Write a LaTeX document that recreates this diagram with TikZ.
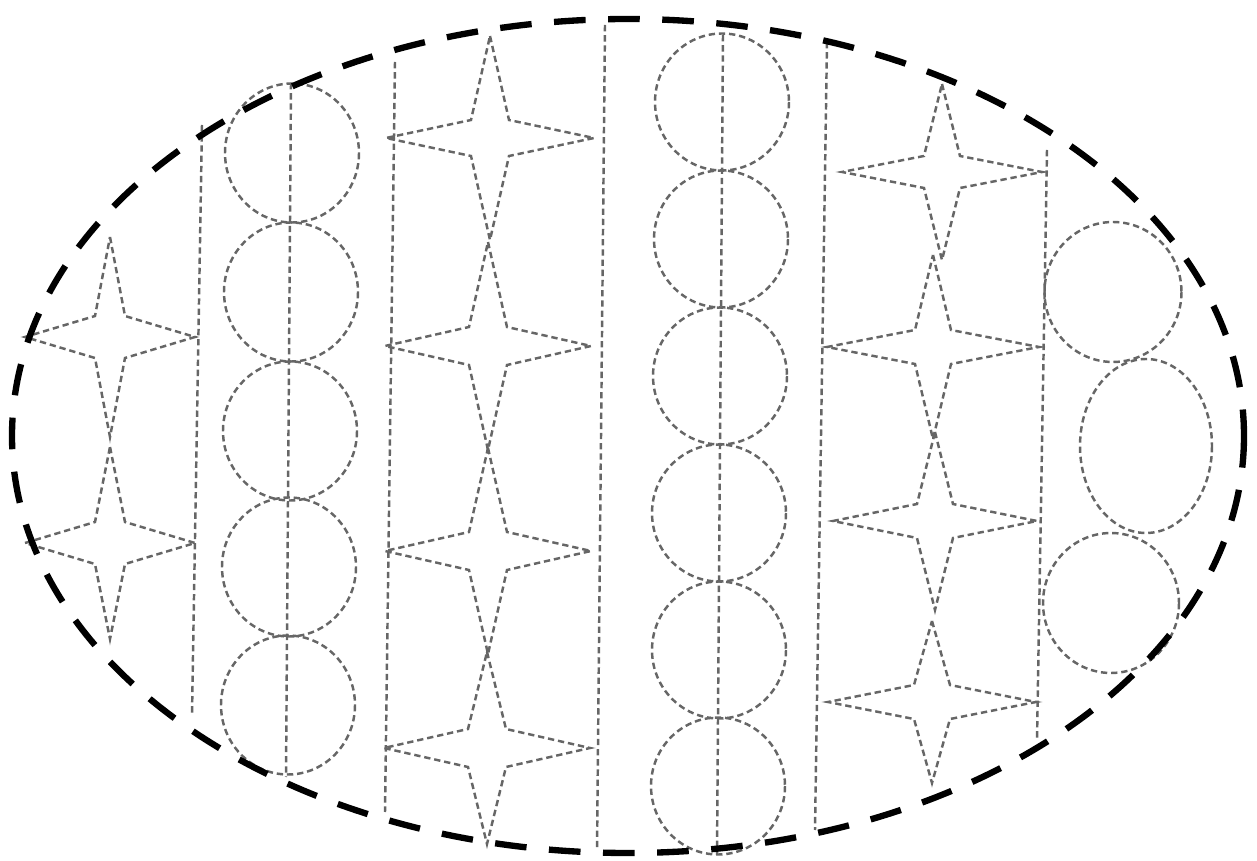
\documentclass[tikz,border=0pt]{standalone}
\begin{document}
\begin{tikzpicture}[x=0.01cm,y=-0.01cm,
  thinline/.style={draw=black!60, line width=0.7pt, dash pattern=on 1.8pt off 1.1pt},
  rim/.style={draw=black, line width=1.8pt, dash pattern=on 9pt off 6.4pt},
  pics/fourstar/.style args={#1/#2/#3/#4}{code={
    \draw[thinline] (0,-#2) -- (#3,-#4) -- (#1,0) -- (#3,#4) -- (0,#2)
      -- (-#3,#4) -- (-#1,0) -- (-#3,-#4) -- cycle;}}]
\useasboundingbox (0,0) rectangle (1257,861);

% vertical strip lines
\draw[thinline] (202,125) -- (192,715);
\draw[thinline] (291,83) -- (286,777);
\draw[thinline] (395,62) -- (385,812);
\draw[thinline] (605,25) -- (597,850);
\draw[thinline] (723,35) -- (717,855);
\draw[thinline] (827,42) -- (815,830);
\draw[thinline] (1047,150) -- (1037,740);

% column A stars
\pic at (110,337) {fourstar={85/100/15/21}};
\pic at (110,543) {fourstar={85/96/15/21}};

% column B circles
\foreach \cx/\cy in {292/153, 291/292, 290/431, 289/567, 288/705}
  \draw[thinline] (\cx,\cy) circle [x radius=67, y radius=69.5];

% column C stars
\pic at (490,138) {fourstar={104/102/19/18}};
\pic at (488,346) {fourstar={103/104/19/19}};
\pic at (488,551) {fourstar={103/103/19/19}};
\pic at (487,748) {fourstar={103/96/19/19}};

% column D circles
\foreach \cx/\cy in {722/102, 721/239, 720/376, 719/513, 719/650, 718/786}
  \draw[thinline] (\cx,\cy) circle [x radius=67, y radius=68.5];

% column E stars
\pic at (942,172) {fourstar={100/88/18/16}};
\pic at (933,347) {fourstar={106/92/18/17}};
\pic at (935,521) {fourstar={102/89/18/17}};
\pic at (932,702) {fourstar={104/81/18/17}};

% column F circles
\draw[thinline] (1113,292) circle [x radius=68.5, y radius=70];
\draw[thinline] (1146,446) circle [x radius=66, y radius=87];
\draw[thinline] (1111,603) circle [x radius=68, y radius=70];

% outer ellipse
\draw[rim] (628,436) ellipse [x radius=616, y radius=417];
\end{tikzpicture}
\end{document}
